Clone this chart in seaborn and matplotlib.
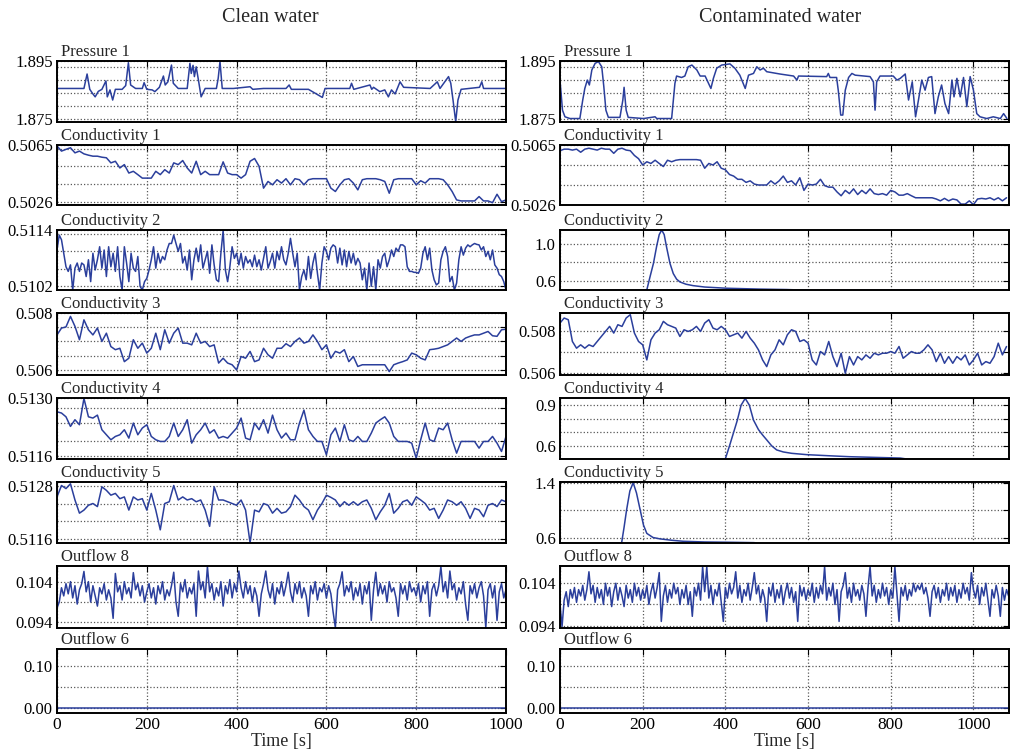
import numpy as np
import matplotlib
matplotlib.use("Agg")
from matplotlib import pyplot as plt
from matplotlib import transforms
import seaborn as sns

# sample times [s]
t_clean = np.arange(0, 1001, 10)
t_clean_fine = np.arange(0, 1001, 5)
t_cont = np.arange(0, 1081, 10)
t_cont_fine = np.arange(0, 1086, 5)

# ---------------- clean water ----------------
t_p1_clean = [0, 60, 67, 73, 80, 85, 92, 100, 109, 112,
              118, 124, 130, 145, 153, 159, 164, 175, 190, 194,
              200, 212, 218, 228, 237, 241, 247, 255, 259, 270,
              290, 296, 299, 303, 306, 310, 315, 321, 330, 355,
              359, 363, 368, 393, 430, 436, 460, 510, 517, 522,
              560, 591, 597, 652, 656, 661, 697, 701, 705, 719,
              730, 738, 745, 753, 764, 772, 831, 847, 853, 872,
              877, 882, 888, 893, 900, 941, 946, 950, 1000]
p1_clean = [1.8855, 1.8855, 1.8905, 1.8852, 1.8836, 1.8826, 1.8845, 1.8852, 1.8881, 1.8826,
            1.8850, 1.8815, 1.8852, 1.8852, 1.8865, 1.8944, 1.8867, 1.8855, 1.8855, 1.8875,
            1.8852, 1.8850, 1.8844, 1.8859, 1.8898, 1.8867, 1.8878, 1.8936, 1.8873, 1.8855,
            1.8855, 1.8942, 1.8907, 1.8935, 1.8896, 1.8930, 1.8884, 1.8826, 1.8855, 1.8855,
            1.8890, 1.8948, 1.8855, 1.8855, 1.8861, 1.8852, 1.8855, 1.8855, 1.8867, 1.8852,
            1.8852, 1.8824, 1.8855, 1.8855, 1.8873, 1.8852, 1.8867, 1.8852, 1.8859, 1.8844,
            1.8850, 1.8826, 1.8850, 1.8836, 1.8878, 1.8859, 1.8855, 1.8878, 1.8855, 1.8896,
            1.8873, 1.8815, 1.8740, 1.8815, 1.8852, 1.8859, 1.8878, 1.8855, 1.8855]

c1_clean = [0.50643, 0.50608, 0.50620, 0.50631, 0.50596, 0.50608, 0.50589, 0.50580, 0.50573, 0.50573,
            0.50566, 0.50562, 0.50527, 0.50538, 0.50492, 0.50515, 0.50457, 0.50469, 0.50446, 0.50422,
            0.50422, 0.50422, 0.50469, 0.50446, 0.50480, 0.50457, 0.50527, 0.50515, 0.50543, 0.50492,
            0.50457, 0.50538, 0.50446, 0.50469, 0.50446, 0.50446, 0.50446, 0.50534, 0.50457, 0.50446,
            0.50446, 0.50422, 0.50446, 0.50538, 0.50557, 0.50504, 0.50353, 0.50399, 0.50376, 0.50411,
            0.50388, 0.50418, 0.50376, 0.50418, 0.50411, 0.50376, 0.50411, 0.50418, 0.50418, 0.50418,
            0.50418, 0.50353, 0.50330, 0.50376, 0.50411, 0.50418, 0.50388, 0.50341, 0.50411, 0.50418,
            0.50418, 0.50418, 0.50411, 0.50399, 0.50318, 0.50411, 0.50418, 0.50418, 0.50418, 0.50418,
            0.50376, 0.50404, 0.50388, 0.50418, 0.50418, 0.50418, 0.50411, 0.50376, 0.50330, 0.50272,
            0.50265, 0.50265, 0.50265, 0.50265, 0.50295, 0.50265, 0.50265, 0.50253, 0.50311, 0.50260,
            0.50272]

c2_clean = [0.51097, 0.51129, 0.51119, 0.51090, 0.51061, 0.51051, 0.51065, 0.51011, 0.51058, 0.51069,
            0.51051, 0.51069, 0.51065, 0.51040, 0.51076, 0.51029, 0.51090, 0.51054, 0.51076, 0.51104,
            0.51058, 0.51097, 0.51040, 0.51104, 0.51061, 0.51090, 0.51051, 0.51104, 0.51040, 0.51011,
            0.51104, 0.51069, 0.51029, 0.51090, 0.51058, 0.51051, 0.51083, 0.51019, 0.51011, 0.51029,
            0.51036, 0.51054, 0.51076, 0.51104, 0.51058, 0.51090, 0.51069, 0.51083, 0.51076, 0.51097,
            0.51111, 0.51111, 0.51129, 0.51111, 0.51094, 0.51111, 0.51069, 0.51083, 0.51054, 0.51097,
            0.51033, 0.51076, 0.51101, 0.51072, 0.51108, 0.51058, 0.51076, 0.51094, 0.51047, 0.51108,
            0.51065, 0.51033, 0.51029, 0.51090, 0.51139, 0.51054, 0.51029, 0.51061, 0.51104, 0.51079,
            0.51090, 0.51065, 0.51090, 0.51058, 0.51083, 0.51069, 0.51076, 0.51061, 0.51086, 0.51061,
            0.51076, 0.51054, 0.51079, 0.51104, 0.51058, 0.51072, 0.51090, 0.51058, 0.51094, 0.51076,
            0.51104, 0.51076, 0.51065, 0.51090, 0.51122, 0.51090, 0.51061, 0.51090, 0.51011, 0.51040,
            0.51054, 0.51033, 0.51083, 0.51036, 0.51069, 0.51090, 0.51047, 0.51011, 0.51069, 0.51104,
            0.51094, 0.51076, 0.51101, 0.51108, 0.51104, 0.51069, 0.51101, 0.51065, 0.51097, 0.51061,
            0.51094, 0.51069, 0.51090, 0.51065, 0.51079, 0.51069, 0.51033, 0.51058, 0.51011, 0.51069,
            0.51019, 0.51061, 0.51011, 0.51076, 0.51058, 0.51083, 0.51090, 0.51061, 0.51076, 0.51097,
            0.51083, 0.51101, 0.51094, 0.51108, 0.51108, 0.51104, 0.51061, 0.51051, 0.51051, 0.51049,
            0.51049, 0.51047, 0.51058, 0.51090, 0.51104, 0.51076, 0.51101, 0.51054, 0.51033, 0.51022,
            0.51026, 0.51076, 0.51094, 0.51104, 0.51083, 0.51029, 0.51040, 0.51011, 0.51026, 0.51076,
            0.51104, 0.51086, 0.51101, 0.51108, 0.51104, 0.51108, 0.51111, 0.51109, 0.51108, 0.51097,
            0.51104, 0.51083, 0.51094, 0.51076, 0.51097, 0.51065, 0.51058, 0.51044, 0.51040, 0.51029,
            0.51011]

c3_clean = [0.50723, 0.50747, 0.50751, 0.50788, 0.50753, 0.50706, 0.50776, 0.50741, 0.50723, 0.50747,
            0.50700, 0.50729, 0.50682, 0.50671, 0.50676, 0.50629, 0.50641, 0.50706, 0.50676, 0.50694,
            0.50659, 0.50676, 0.50729, 0.50671, 0.50741, 0.50694, 0.50729, 0.50747, 0.50694, 0.50694,
            0.50688, 0.50729, 0.50694, 0.50700, 0.50682, 0.50688, 0.50624, 0.50641, 0.50624, 0.50618,
            0.50600, 0.50647, 0.50641, 0.50665, 0.50629, 0.50635, 0.50676, 0.50653, 0.50641, 0.50676,
            0.50676, 0.50692, 0.50682, 0.50700, 0.50712, 0.50694, 0.50700, 0.50723, 0.50700, 0.50671,
            0.50688, 0.50641, 0.50665, 0.50659, 0.50671, 0.50629, 0.50647, 0.50612, 0.50618, 0.50618,
            0.50618, 0.50618, 0.50618, 0.50618, 0.50594, 0.50618, 0.50624, 0.50629, 0.50635, 0.50659,
            0.50653, 0.50641, 0.50635, 0.50671, 0.50673, 0.50676, 0.50682, 0.50688, 0.50700, 0.50712,
            0.50700, 0.50712, 0.50718, 0.50723, 0.50723, 0.50729, 0.50735, 0.50720, 0.50718, 0.50741,
            0.50743]

c4_clean = [0.51267, 0.51264, 0.51255, 0.51232, 0.51248, 0.51236, 0.51299, 0.51255, 0.51252, 0.51259,
            0.51224, 0.51212, 0.51200, 0.51208, 0.51212, 0.51224, 0.51204, 0.51240, 0.51212, 0.51228,
            0.51236, 0.51208, 0.51200, 0.51196, 0.51196, 0.51208, 0.51240, 0.51208, 0.51224, 0.51248,
            0.51192, 0.51212, 0.51224, 0.51240, 0.51216, 0.51224, 0.51204, 0.51208, 0.51204, 0.51216,
            0.51228, 0.51252, 0.51204, 0.51200, 0.51240, 0.51224, 0.51248, 0.51216, 0.51259, 0.51224,
            0.51204, 0.51216, 0.51200, 0.51200, 0.51240, 0.51271, 0.51224, 0.51208, 0.51196, 0.51196,
            0.51164, 0.51212, 0.51228, 0.51196, 0.51236, 0.51200, 0.51196, 0.51208, 0.51196, 0.51196,
            0.51216, 0.51240, 0.51248, 0.51255, 0.51240, 0.51208, 0.51196, 0.51196, 0.51196, 0.51192,
            0.51156, 0.51200, 0.51240, 0.51200, 0.51196, 0.51228, 0.51224, 0.51240, 0.51200, 0.51168,
            0.51196, 0.51196, 0.51196, 0.51196, 0.51180, 0.51196, 0.51196, 0.51208, 0.51192, 0.51172,
            0.51208]

c5_clean = [0.51256, 0.51282, 0.51275, 0.51286, 0.51249, 0.51219, 0.51226, 0.51237, 0.51241, 0.51234,
            0.51279, 0.51271, 0.51260, 0.51264, 0.51252, 0.51256, 0.51226, 0.51256, 0.51249, 0.51252,
            0.51226, 0.51264, 0.51226, 0.51181, 0.51241, 0.51245, 0.51282, 0.51249, 0.51256, 0.51249,
            0.51252, 0.51245, 0.51249, 0.51226, 0.51189, 0.51279, 0.51249, 0.51249, 0.51245, 0.51241,
            0.51237, 0.51249, 0.51226, 0.51151, 0.51226, 0.51222, 0.51241, 0.51237, 0.51219, 0.51230,
            0.51219, 0.51222, 0.51234, 0.51260, 0.51249, 0.51234, 0.51226, 0.51204, 0.51226, 0.51241,
            0.51260, 0.51255, 0.51249, 0.51234, 0.51245, 0.51237, 0.51245, 0.51237, 0.51245, 0.51249,
            0.51230, 0.51204, 0.51222, 0.51237, 0.51264, 0.51219, 0.51230, 0.51245, 0.51249, 0.51237,
            0.51256, 0.51249, 0.51241, 0.51226, 0.51230, 0.51207, 0.51226, 0.51249, 0.51245, 0.51237,
            0.51245, 0.51230, 0.51207, 0.51230, 0.51226, 0.51211, 0.51237, 0.51241, 0.51234, 0.51249,
            0.51245]

o8_clean = [0.0975, 0.0990, 0.1025, 0.1005, 0.1035, 0.1010, 0.1040, 0.1000, 0.1030, 0.0985,
            0.1020, 0.1035, 0.1065, 0.1015, 0.1040, 0.0990, 0.1030, 0.1005, 0.0980, 0.1025,
            0.1010, 0.1035, 0.0995, 0.1020, 0.1000, 0.0950, 0.1060, 0.1015, 0.1030, 0.0995,
            0.1040, 0.1010, 0.1025, 0.1000, 0.1062, 0.1020, 0.1035, 0.1005, 0.1030, 0.0990,
            0.1015, 0.1035, 0.1000, 0.1025, 0.0985, 0.1030, 0.1010, 0.1040, 0.0995, 0.1020,
            0.1005, 0.1030, 0.1063, 0.0990, 0.0955, 0.1035, 0.1015, 0.1045, 0.1000, 0.1025,
            0.1010, 0.1035, 0.0955, 0.1066, 0.1020, 0.1040, 0.1000, 0.1077, 0.1015, 0.1035,
            0.0995, 0.1025, 0.1005, 0.1040, 0.0980, 0.1030, 0.1010, 0.1045, 0.1000, 0.1035,
            0.1015, 0.1066, 0.1025, 0.1000, 0.1040, 0.1010, 0.1030, 0.0990, 0.1025, 0.1005,
            0.0955, 0.1010, 0.1035, 0.1066, 0.1020, 0.1000, 0.1035, 0.0985, 0.1025, 0.1010,
            0.1040, 0.1005, 0.1030, 0.1063, 0.1015, 0.0990, 0.1035, 0.1010, 0.1040, 0.1000,
            0.1025, 0.1005, 0.0955, 0.1030, 0.1010, 0.1040, 0.0995, 0.1025, 0.1015, 0.1035,
            0.1000, 0.1030, 0.1010, 0.0965, 0.0927, 0.1020, 0.1035, 0.1064, 0.1005, 0.1030,
            0.1015, 0.1040, 0.0995, 0.1025, 0.1005, 0.1035, 0.0985, 0.1030, 0.1010, 0.1040,
            0.0945, 0.1020, 0.1063, 0.1005, 0.1035, 0.1010, 0.1030, 0.0990, 0.1040, 0.1015,
            0.1025, 0.1000, 0.0955, 0.1035, 0.1010, 0.1030, 0.0995, 0.1040, 0.1015, 0.1025,
            0.1005, 0.1035, 0.0990, 0.1030, 0.1010, 0.1040, 0.0955, 0.1020, 0.1035, 0.1005,
            0.1030, 0.1077, 0.1015, 0.1040, 0.1000, 0.1066, 0.1020, 0.1035, 0.0995, 0.1025,
            0.1010, 0.1040, 0.0985, 0.0945, 0.1030, 0.1010, 0.1035, 0.1000, 0.1025, 0.1040,
            0.1005, 0.0927, 0.1020, 0.1035, 0.1000, 0.1030, 0.0945, 0.1015, 0.1035, 0.1000,
            0.1020]

t_o6_clean = [0, 1000]
o6_clean = [0.0, 0.0]

# ---------------- contaminated water ----------------
t_p1_cont = [0, 6, 12, 24, 48, 55, 60, 66, 71, 77,
             85, 93, 101, 106, 111, 117, 145, 152, 155, 160,
             165, 202, 230, 234, 270, 278, 282, 294, 302, 310,
             319, 331, 339, 351, 365, 371, 379, 391, 411, 423,
             435, 448, 456, 468, 476, 484, 492, 500, 532, 565,
             573, 577, 645, 649, 653, 669, 673, 679, 684, 690,
             698, 706, 714, 750, 758, 762, 766, 774, 806, 815,
             823, 835, 843, 852, 860, 867, 875, 883, 891, 899,
             907, 915, 923, 931, 940, 948, 953, 960, 968, 976,
             984, 992, 1000, 1008, 1016, 1032, 1048, 1065, 1073, 1081]
p1_cont = [1.8884, 1.8780, 1.8757, 1.8751, 1.8751, 1.8815, 1.8855, 1.8884, 1.8867, 1.8919,
           1.8942, 1.8948, 1.8930, 1.8861, 1.8780, 1.8755, 1.8755, 1.8815, 1.8859, 1.8780,
           1.8755, 1.8751, 1.8757, 1.8751, 1.8751, 1.8873, 1.8898, 1.8893, 1.8898, 1.8930,
           1.8936, 1.8919, 1.8898, 1.8898, 1.8855, 1.8890, 1.8925, 1.8936, 1.8940, 1.8925,
           1.8901, 1.8855, 1.8901, 1.8907, 1.8930, 1.8919, 1.8925, 1.8913, 1.8905, 1.8898,
           1.8884, 1.8898, 1.8896, 1.8907, 1.8893, 1.8893, 1.8849, 1.8763, 1.8763, 1.8849,
           1.8893, 1.8907, 1.8901, 1.8896, 1.8878, 1.8780, 1.8878, 1.8898, 1.8898, 1.8884,
           1.8890, 1.8905, 1.8815, 1.8878, 1.8757, 1.8815, 1.8884, 1.8849, 1.8893, 1.8896,
           1.8768, 1.8826, 1.8867, 1.8803, 1.8768, 1.8884, 1.8826, 1.8890, 1.8826, 1.8893,
           1.8792, 1.8896, 1.8849, 1.8768, 1.8757, 1.8751, 1.8757, 1.8751, 1.8768, 1.8751]

c1_cont = [0.50613, 0.50623, 0.50623, 0.50617, 0.50623, 0.50603, 0.50623, 0.50629, 0.50623, 0.50617,
           0.50629, 0.50623, 0.50623, 0.50596, 0.50623, 0.50629, 0.50617, 0.50613, 0.50582, 0.50561,
           0.50520, 0.50541, 0.50530, 0.50551, 0.50530, 0.50510, 0.50551, 0.50541, 0.50551, 0.50555,
           0.50555, 0.50555, 0.50555, 0.50555, 0.50551, 0.50499, 0.50530, 0.50520, 0.50541, 0.50499,
           0.50489, 0.50458, 0.50448, 0.50427, 0.50427, 0.50407, 0.50417, 0.50396, 0.50390, 0.50390,
           0.50390, 0.50417, 0.50396, 0.50417, 0.50448, 0.50407, 0.50417, 0.50390, 0.50437, 0.50355,
           0.50396, 0.50390, 0.50396, 0.50427, 0.50386, 0.50376, 0.50376, 0.50345, 0.50320, 0.50355,
           0.50334, 0.50365, 0.50328, 0.50355, 0.50334, 0.50365, 0.50334, 0.50328, 0.50334, 0.50324,
           0.50355, 0.50345, 0.50324, 0.50324, 0.50334, 0.50320, 0.50307, 0.50307, 0.50307, 0.50307,
           0.50307, 0.50299, 0.50287, 0.50303, 0.50287, 0.50299, 0.50293, 0.50266, 0.50266, 0.50287,
           0.50262, 0.50299, 0.50303, 0.50299, 0.50307, 0.50293, 0.50307, 0.50287, 0.50307]

t_c2_cont = [0, 200, 210, 218, 226, 234, 240, 246, 252, 258, 266,
             274, 282, 290, 305, 322, 350, 403, 480, 548, 600, 1085]
c2_cont = [0.50, 0.50, 0.505, 0.65, 0.79, 0.98, 1.10, 1.15, 1.10, 0.96, 0.79,
           0.68, 0.62, 0.59, 0.565, 0.55, 0.535, 0.522, 0.513, 0.508, 0.50, 0.50]

c3_cont = [0.50840, 0.50864, 0.50856, 0.50752, 0.50720, 0.50736, 0.50720, 0.50736, 0.50728, 0.50752,
           0.50776, 0.50800, 0.50824, 0.50792, 0.50832, 0.50824, 0.50864, 0.50880, 0.50792, 0.50752,
           0.50736, 0.50664, 0.50760, 0.50792, 0.50808, 0.50848, 0.50832, 0.50824, 0.50816, 0.50776,
           0.50808, 0.50800, 0.50808, 0.50824, 0.50800, 0.50840, 0.50856, 0.50816, 0.50808, 0.50824,
           0.50808, 0.50776, 0.50784, 0.50792, 0.50768, 0.50800, 0.50768, 0.50744, 0.50712, 0.50664,
           0.50632, 0.50688, 0.50712, 0.50760, 0.50736, 0.50784, 0.50808, 0.50800, 0.50752, 0.50760,
           0.50744, 0.50664, 0.50640, 0.50704, 0.50688, 0.50752, 0.50680, 0.50632, 0.50696, 0.50600,
           0.50680, 0.50640, 0.50680, 0.50664, 0.50688, 0.50672, 0.50696, 0.50688, 0.50696, 0.50696,
           0.50704, 0.50696, 0.50728, 0.50672, 0.50688, 0.50704, 0.50696, 0.50696, 0.50712, 0.50736,
           0.50712, 0.50656, 0.50696, 0.50648, 0.50680, 0.50648, 0.50680, 0.50664, 0.50688, 0.50640,
           0.50664, 0.50696, 0.50640, 0.50656, 0.50648, 0.50680, 0.50744, 0.50688, 0.50728]

t_c4_cont = [0, 395, 400, 410, 420, 429, 438, 448, 458, 468, 480, 490,
             500, 512, 524, 540, 560, 597, 650, 700, 760, 823, 845, 1085]
c4_cont = [0.50, 0.50, 0.505, 0.60, 0.70, 0.79, 0.90, 0.95, 0.90, 0.79, 0.72, 0.68,
           0.644, 0.60, 0.57, 0.555, 0.545, 0.535, 0.527, 0.52, 0.515, 0.51, 0.50, 0.50]

t_c5_cont = [0, 95, 100, 149, 155, 161, 169, 177, 185, 194, 202,
             210, 225, 242, 270, 298, 350, 419, 470, 480, 1085]
c5_cont = [0.50, 0.50, 0.52, 0.52, 0.75, 1.0, 1.28, 1.40, 1.25, 1.0, 0.78,
           0.66, 0.60, 0.58, 0.56, 0.545, 0.535, 0.53, 0.525, 0.50, 0.50]

o8_cont = [0.0990, 0.0938, 0.1000, 0.1020, 0.0985, 0.1025, 0.1005, 0.1030, 0.0995, 0.1025,
           0.1010, 0.1035, 0.1000, 0.1025, 0.1067, 0.1015, 0.1035, 0.0995, 0.1030, 0.1005,
           0.1025, 0.0990, 0.1040, 0.1010, 0.1030, 0.0985, 0.1020, 0.1040, 0.1000, 0.1030,
           0.1010, 0.0985, 0.1035, 0.1005, 0.1025, 0.0995, 0.1040, 0.1010, 0.1030, 0.1000,
           0.1025, 0.1005, 0.1035, 0.0990, 0.1020, 0.1040, 0.1005, 0.1030, 0.1065, 0.0950,
           0.1010, 0.1035, 0.0995, 0.1025, 0.1005, 0.1040, 0.1015, 0.1030, 0.0990, 0.1025,
           0.1005, 0.1035, 0.0990, 0.1020, 0.0962, 0.1030, 0.1010, 0.1040, 0.1000, 0.1079,
           0.1020, 0.1079, 0.1005, 0.1035, 0.0990, 0.1025, 0.1010, 0.1040, 0.0995, 0.0950,
           0.1030, 0.1005, 0.1040, 0.1015, 0.1030, 0.1067, 0.1005, 0.1035, 0.0995, 0.1025,
           0.1010, 0.1040, 0.1000, 0.1030, 0.1065, 0.1015, 0.1035, 0.0995, 0.1025, 0.1005,
           0.0950, 0.1030, 0.1010, 0.1040, 0.0995, 0.1025, 0.1005, 0.1035, 0.0990, 0.1020,
           0.1040, 0.1005, 0.1030, 0.0995, 0.1020, 0.0950, 0.1035, 0.1010, 0.1030, 0.1000,
           0.1025, 0.1010, 0.1040, 0.0995, 0.1030, 0.1005, 0.1035, 0.1015, 0.1079, 0.1000,
           0.1030, 0.1010, 0.1040, 0.0990, 0.1025, 0.0950, 0.1020, 0.1035, 0.1065, 0.1005,
           0.1030, 0.0995, 0.1040, 0.1010, 0.1025, 0.1000, 0.1035, 0.1015, 0.0962, 0.1030,
           0.1079, 0.1010, 0.1035, 0.0995, 0.1025, 0.1005, 0.1040, 0.1010, 0.1030, 0.0990,
           0.1025, 0.1005, 0.1079, 0.1015, 0.0950, 0.1030, 0.1010, 0.1035, 0.1000, 0.1025,
           0.1010, 0.1040, 0.1020, 0.1035, 0.1025, 0.1040, 0.1015, 0.1030, 0.1005, 0.0962,
           0.1020, 0.1035, 0.1005, 0.1030, 0.0995, 0.1025, 0.1010, 0.1040, 0.1000, 0.1030,
           0.1010, 0.1035, 0.0995, 0.1025, 0.1005, 0.1040, 0.1015, 0.1030, 0.1000, 0.1065,
           0.1025, 0.1005, 0.1035, 0.0990, 0.1030, 0.1010, 0.1040, 0.1000, 0.0962, 0.1025,
           0.1005, 0.1035, 0.1010, 0.0962, 0.1030, 0.1000, 0.1025, 0.1010]

t_o6_cont = [0, 1085]
o6_cont = [0.0, 0.0]

# panel names and y axes: (ylim, tick positions, tick labels)
names = ["Pressure 1", "Conductivity 1", "Conductivity 2", "Conductivity 3",
         "Conductivity 4", "Conductivity 5", "Outflow 8", "Outflow 6"]

clean = [
    (t_p1_clean, p1_clean, (1.8739, 1.895), [1.875, 1.8795, 1.884, 1.8885, 1.893, 1.895], ("1.875", "1.895")),
    (t_clean, c1_clean, (0.50237, 0.5065), [0.5026, 0.50381, 0.50503, 0.50625, 0.5065], ("0.5026", "0.5065")),
    (t_clean_fine, c2_clean, (0.51011, 0.5114), [0.5102, 0.51057, 0.51094, 0.51131, 0.5114], ("0.5102", "0.5114")),
    (t_clean, c3_clean, (0.50582, 0.508), [0.506, 0.5065, 0.507, 0.5075, 0.508], ("0.506", "0.508")),
    (t_clean, c4_clean, (0.51154, 0.5130), [0.5116, 0.51197, 0.5124, 0.51277, 0.5130], ("0.5116", "0.5130")),
    (t_clean, c5_clean, (0.51151, 0.5129), [0.5116, 0.5120, 0.5124, 0.5128], ("0.5116", "0.5128")),
    (t_clean_fine, o8_clean, (0.09263, 0.10783), [0.094, 0.099, 0.104], ("0.094", "0.104")),
    (t_o6_clean, o6_clean, (-0.013, 0.1404), [0.0, 0.05, 0.10], ("0.00", "0.10")),
]
cont = [
    (t_p1_cont, p1_cont, (1.8739, 1.895), [1.875, 1.8795, 1.884, 1.8885, 1.893, 1.895], ("1.875", "1.895")),
    (t_cont, c1_cont, (0.5026, 0.5065), [0.5026, 0.5039, 0.5052, 0.5065], ("0.5026", "0.5065")),
    (t_c2_cont, c2_cont, (0.503, 1.15), [0.6, 0.8, 1.0], ("0.6", "1.0")),
    (t_cont, c3_cont, (0.50592, 0.50888), [0.506, 0.507, 0.508], ("0.506", "0.508")),
    (t_c4_cont, c4_cont, (0.503, 0.953), [0.6, 0.7, 0.8, 0.9], ("0.6", "0.9")),
    (t_c5_cont, c5_cont, (0.52, 1.41), [0.6, 1.0, 1.4], ("0.6", "1.4")),
    (t_cont_fine, o8_cont, (0.09345, 0.10806), [0.094, 0.099, 0.104], ("0.094", "0.104")),
    (t_o6_cont, o6_cont, (-0.013, 0.1404), [0.0, 0.05, 0.10], ("0.00", "0.10")),
]

sns.set_style("white")
plt.rcParams["font.family"] = ["Liberation Serif", "DejaVu Serif"]
plt.rcParams["axes.linewidth"] = 1.4

W, H = 1011, 753
row_px = [(61, 122), (145, 205), (230, 290), (313, 375), (398, 459), (482, 543), (566, 628), (649, 713)]
col_px = [(57, 506), (560, 1009)]
col_xlim = [1000, 1086]
line_color = "#2b3f9c"

fig = plt.figure(figsize=(W / 100, H / 100), dpi=100)

for c, series in enumerate([clean, cont]):
    x0, x1 = col_px[c]
    for r, (t, v, ylim, yticks, ylabels) in enumerate(series):
        y0, y1 = row_px[r]
        ax = fig.add_axes([x0 / W, 1 - y1 / H, (x1 - x0) / W, (y1 - y0) / H])
        sns.lineplot(x=t, y=v, ax=ax, color=line_color, linewidth=1.1, estimator=None)
        ax.set_xlim(0, col_xlim[c])
        ax.set_ylim(*ylim)
        ax.set_xticks(range(0, 1001, 200))
        ax.set_yticks(yticks)
        labels = [""] * len(yticks)
        labels[0], labels[-1] = ylabels
        ax.set_yticklabels(labels)
        ax.grid(True, linestyle=":", color="0.35", linewidth=0.9)
        ax.tick_params(direction="in", top=True, right=True, length=4, width=0.8,
                       labelsize=12, pad=3, colors="black")
        for sp in ax.spines.values():
            sp.set_color("black")
        if r == len(series) - 1:
            ax.tick_params(axis="x", labelsize=12.5)
            ax.set_xlabel("Time [s]", fontsize=13, labelpad=0)
        else:
            ax.tick_params(axis="x", labelbottom=False)
            ax.set_xlabel("")
        ax.set_ylabel("")
        tr = transforms.offset_copy(ax.transAxes, fig=fig, y=3.5, units="points")
        ax.text(0.009, 1.0, names[r], transform=tr, ha="left", va="baseline", fontsize=12)

fig.text(270 / W, 1 - 18 / H, "Clean water", ha="center", va="center", fontsize=14.5)
fig.text(780 / W, 1 - 17 / H, "Contaminated water", ha="center", va="center", fontsize=14.5)

fig.savefig("out.png", dpi=100)
